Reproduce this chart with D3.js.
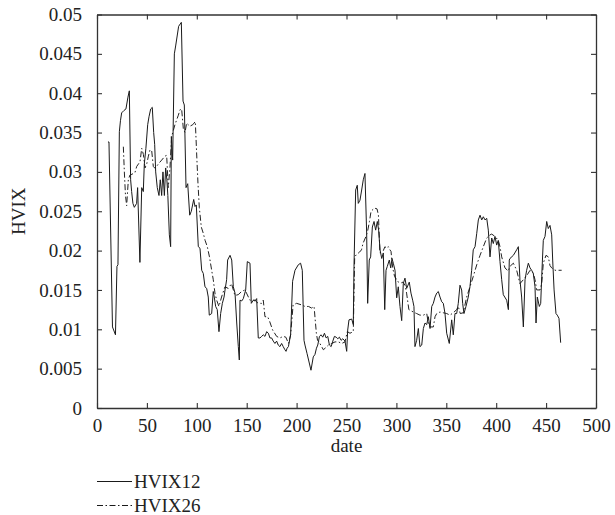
<!DOCTYPE html>
<html>
<head>
<meta charset="utf-8">
<script src="https://cdn.jsdelivr.net/npm/d3@7"></script>
<style>
  html, body { margin: 0; padding: 0; background: #fff; }
  svg { display: block; }
  text { font-family: "Liberation Serif", "DejaVu Serif", serif; fill: #222; }
</style>
</head>
<body>
<svg id="chart" width="615" height="515"></svg>
<script>
// ---- data ----
const hvix12Dates = [11,12,15.5,18.5,20,21,22.4,23.5,24.7,27,29,31,32.4,33.7,34.7,36,37.4,39.7,40.7,43,44.8,46.4,47.4,49,50.8,52.1,53.8,55.4,56.8,57.8,58.8,60.4,62.1,63.4,64.8,66.1,67.5,68.8,70,71,72.5,73.8,74.5,75.8,77.5,78.8,81.8,84.5,86.2,87.5,89.2,90.9,92.9,94.5,96.9,98.2,99.5,101.5,103.2,104.9,106.5,108.2,109.9,111.5,112.5,114.9,116.5,117.5,118.9,120.5,122.2,123.9,125.6,127.3,128.3,129.9,130.9,133.3,135,136.6,138.3,140,141.6,142.6,143.3,145,146.6,149,150.6,153.3,154.6,156.6,158.3,160,161.6,163.3,165,166.6,168.3,170,171.7,173.3,175,176.6,178.3,180,181.6,183.3,185,186.6,188.3,189.4,190.5,191.8,194,196,198.4,201.7,204,205.7,207.4,208.4,210.5,214.4,216.7,218.4,219.9,221.2,222.9,224.6,226.2,227.9,229.6,231.2,232.9,234.6,236.3,237.9,239.6,241.3,242.9,244.6,246.3,248.5,250.2,251.2,252.5,255.2,256.8,257.5,259.2,260.8,261.8,263.5,265.2,266.8,268.5,270.2,271.2,272.8,274.2,275.9,277.6,279.2,280.9,282.2,283.6,285.3,286.9,288.3,289.6,290.9,292.9,294.3,295.6,296.9,298.6,300.3,301.9,303.6,305.3,306.9,308.6,310.3,312.9,314.6,316.3,317.6,318.6,320.3,322,323.6,325.4,327,328.7,330.4,332,333.7,335.4,337,338.7,340.4,342,343.7,345.4,347,348.7,350.4,353,355.4,357,358.7,360.4,362,363.7,365.4,366.4,367.7,369.7,372,373.7,375.4,377,378.8,380.5,382.1,383.8,385.5,387.1,388.8,390.5,392.1,393.8,395.5,397.1,398.8,400.5,402.1,403.8,405.5,407.1,410.5,412.2,413.1,413.8,417.2,420.5,422.2,423.8,425.5,427.2,428.9,430.5,432.2,433.9,435.5,437.2,438.9,439.9,441.2,443.2,444.6,445.6,447.2,448.9,450.6,452.2,453.9,455.6,456.6,458,459.9,461.2,462.9,464.6];
const hvix12Values = [0.0338,0.0338,0.0103,0.0093,0.018,0.0182,0.0351,0.0365,0.0375,0.0378,0.038,0.0395,0.0403,0.029,0.0275,0.026,0.0255,0.026,0.028,0.0185,0.028,0.0275,0.031,0.033,0.036,0.037,0.038,0.0382,0.035,0.0335,0.030,0.028,0.027,0.029,0.027,0.030,0.027,0.0305,0.029,0.027,0.022,0.0205,0.0345,0.0315,0.045,0.046,0.0485,0.049,0.039,0.0385,0.028,0.0285,0.0245,0.025,0.0265,0.0256,0.0258,0.0205,0.0203,0.0175,0.0171,0.0154,0.0152,0.0141,0.0118,0.012,0.0148,0.0141,0.0129,0.0125,0.0097,0.012,0.0133,0.0141,0.015,0.0163,0.0188,0.0194,0.0188,0.0154,0.0146,0.0108,0.0078,0.0061,0.0137,0.0136,0.0139,0.015,0.0186,0.0184,0.0133,0.0137,0.0136,0.0139,0.0089,0.0089,0.0091,0.0093,0.0091,0.0097,0.0095,0.0089,0.0089,0.0085,0.0082,0.0085,0.008,0.0078,0.0082,0.0078,0.0074,0.0072,0.0076,0.0078,0.0093,0.0161,0.0175,0.0182,0.0184,0.0175,0.0086,0.008,0.0069,0.0048,0.0065,0.0068,0.0076,0.008,0.0091,0.0093,0.009,0.0095,0.0089,0.0091,0.008,0.0078,0.0085,0.0091,0.009,0.0088,0.009,0.0086,0.0088,0.0085,0.0072,0.0099,0.0112,0.0113,0.0106,0.018,0.0277,0.0283,0.026,0.0264,0.0277,0.029,0.0298,0.0222,0.0133,0.0188,0.0192,0.023,0.0237,0.0226,0.0237,0.0226,0.0201,0.019,0.0197,0.0125,0.0175,0.018,0.0188,0.0178,0.019,0.0184,0.0175,0.0140,0.0154,0.0129,0.0111,0.0158,0.0165,0.0152,0.016,0.0146,0.0137,0.0129,0.0078,0.0086,0.0101,0.0078,0.008,0.0101,0.0108,0.0106,0.0116,0.0101,0.0129,0.0133,0.0141,0.0146,0.0148,0.0141,0.0135,0.0133,0.012,0.0095,0.0082,0.0112,0.0093,0.012,0.012,0.0133,0.0156,0.015,0.0133,0.012,0.0129,0.0141,0.0154,0.0175,0.0201,0.0205,0.0222,0.0239,0.0245,0.0239,0.0243,0.0239,0.0241,0.0226,0.0192,0.0216,0.0209,0.0218,0.0207,0.0213,0.0186,0.0163,0.0144,0.0137,0.0125,0.0188,0.019,0.0194,0.0201,0.0205,0.0163,0.0141,0.0103,0.0163,0.0175,0.0184,0.0178,0.0175,0.0171,0.0154,0.0108,0.0141,0.0129,0.0133,0.0167,0.0213,0.0218,0.0237,0.0228,0.0232,0.022,0.0188,0.015,0.012,0.0118,0.0114,0.0083];

const hvix26Dates = [26.4,27.4,28.5,29.7,31.4,33,35,38,39.8,41.5,43.1,44.8,46.5,48.1,49.8,51.5,53.1,54.8,56.4,57.8,59.8,61.4,64.8,68.1,69.8,71.4,73.1,74.8,78.1,81.5,83.2,84.8,86.5,88.2,89.8,93,96,98.5,100.3,101.2,102.5,104.5,106.5,108.3,110.5,112.7,114.9,116.5,118.2,119.9,122.2,124.8,128.2,131.5,134.8,138.2,141.5,144.9,148.2,149.8,153.2,158.2,161.5,164.9,166.6,168.3,171,173,176,180,183.3,186.6,189.2,191.9,194,196.5,200,205,208.5,212,215,217.5,219.8,221,222.5,226.8,228.6,231.9,235.2,238.5,241.9,245.2,248.5,250.8,253.5,256.8,258.2,260,263,265,266.5,269.5,271.2,273,274.6,278,280.6,282,283.5,286.9,288.5,290.2,291.9,293.5,294.6,296.3,298.2,301.9,304.9,306.6,308.6,310.2,312.5,316.9,320.3,323.6,327,330.4,332,333.7,337,338.7,340.4,343.7,347,350.4,353.7,357,360.4,362,364,367,370.4,373.7,377,380.5,383.8,387.1,390.5,393.8,395.5,398.8,402.1,403.8,405.5,408.8,412.1,413.8,417.2,420.5,423.8,427.2,430.5,433.9,437.2,438.9,440.6,443.9,445.6,447.2,449.9,452.2,453.9,455.6,458.9,465.6];
const hvix26Values = [0.0332,0.030,0.0271,0.0257,0.029,0.0296,0.0297,0.0299,0.0307,0.031,0.0313,0.033,0.0322,0.0305,0.031,0.032,0.0328,0.0327,0.0307,0.0305,0.0307,0.031,0.0315,0.032,0.0321,0.028,0.0305,0.0345,0.036,0.0372,0.0379,0.038,0.0355,0.035,0.0362,0.0358,0.036,0.0364,0.031,0.0285,0.0255,0.023,0.0222,0.0213,0.0205,0.0192,0.0175,0.0163,0.0146,0.0137,0.0129,0.0141,0.0154,0.0152,0.0158,0.0143,0.0144,0.0148,0.015,0.0146,0.0137,0.0137,0.0133,0.0133,0.0137,0.0116,0.0116,0.011,0.0099,0.0091,0.0089,0.0091,0.009,0.0082,0.0093,0.0131,0.0133,0.0131,0.0129,0.0129,0.0127,0.0129,0.0095,0.0086,0.0084,0.0074,0.0076,0.008,0.0082,0.0084,0.0084,0.0082,0.0084,0.0097,0.0095,0.0097,0.0192,0.0195,0.0198,0.0201,0.0209,0.0218,0.0225,0.0237,0.025,0.0254,0.0253,0.0245,0.0197,0.020,0.0205,0.0203,0.0205,0.0201,0.0199,0.0178,0.0167,0.016,0.0159,0.016,0.0156,0.0146,0.0125,0.0122,0.012,0.0118,0.0118,0.012,0.0108,0.0103,0.0103,0.0116,0.012,0.0122,0.0121,0.012,0.0118,0.0121,0.0125,0.0129,0.012,0.0121,0.0141,0.0154,0.0167,0.0182,0.0194,0.0205,0.0216,0.022,0.0221,0.0218,0.0213,0.0205,0.0192,0.0178,0.0174,0.018,0.0184,0.0175,0.0158,0.0163,0.0168,0.0175,0.0171,0.0163,0.015,0.015,0.0158,0.0184,0.0194,0.0192,0.0181,0.0178,0.0175,0.0175];

const xTicks = [0,50,100,150,200,250,300,350,400,450,500];
const yTicks = [0,0.005,0.01,0.015,0.02,0.025,0.03,0.035,0.04,0.045,0.05];
const yTickLabels = ["0","0.005","0.01","0.015","0.02","0.025","0.03","0.035","0.04","0.045","0.05"];
const seriesNames = ["HVIX12","HVIX26"];
const xLabel = "date";
const yLabel = "HVIX";

// ---- drawing ----
const svg = d3.select("#chart");
const L = 97, R = 596, T = 14.5, B = 408;
const x = d3.scaleLinear().domain([0, 500]).range([L, R]);
const y = d3.scaleLinear().domain([0, 0.05]).range([B, T]);
const axisColor = "#333";
const tickLen = 5;

// frame ticks (inward)
const fmtY = d => yTickLabels[yTicks.indexOf(d)];
const gB = svg.append("g").attr("transform", `translate(0,${B})`)
  .call(d3.axisBottom(x).tickValues(xTicks).tickSizeInner(-tickLen).tickSizeOuter(0).tickPadding(11).tickFormat(d3.format("d")));
const gT = svg.append("g").attr("transform", `translate(0,${T})`)
  .call(d3.axisTop(x).tickValues(xTicks).tickSizeInner(-tickLen).tickSizeOuter(0).tickFormat(""));
const gL = svg.append("g").attr("transform", `translate(${L},0)`)
  .call(d3.axisLeft(y).tickValues(yTicks).tickSizeInner(-tickLen).tickSizeOuter(0).tickPadding(15).tickFormat(fmtY));
const gR = svg.append("g").attr("transform", `translate(${R},0)`)
  .call(d3.axisRight(y).tickValues(yTicks).tickSizeInner(-tickLen).tickSizeOuter(0).tickFormat(""));

[gB, gT, gL, gR].forEach(g => {
  g.select(".domain").attr("stroke", axisColor).attr("stroke-width", 1.3);
  g.selectAll(".tick line").attr("stroke", axisColor).attr("stroke-width", 1.1);
  g.selectAll("text").attr("font-family", "Liberation Serif, DejaVu Serif, serif")
    .attr("font-size", 19).attr("fill", "#222");
});
gB.selectAll("text").attr("dy", "0.71em");

// series
const line = d3.line().x(d => x(d[0])).y(d => y(d[1]));
const s12 = hvix12Dates.map((d, i) => [d, hvix12Values[i]]);
const s26 = hvix26Dates.map((d, i) => [d, hvix26Values[i]]);
const dashPattern = "6,2.5,1.5,2.5";

svg.append("path").datum(s26).attr("d", line)
  .attr("fill", "none").attr("stroke", "#222").attr("stroke-width", 1)
  .attr("stroke-dasharray", dashPattern);
svg.append("path").datum(s12).attr("d", line)
  .attr("fill", "none").attr("stroke", "#1a1a1a").attr("stroke-width", 1);

// axis labels
svg.append("text").attr("x", (L + R) / 2).attr("y", 452)
  .attr("text-anchor", "middle").attr("font-size", 19).text(xLabel);
svg.append("text").attr("transform", `translate(25,${(T + B) / 2}) rotate(-90)`)
  .attr("text-anchor", "middle").attr("font-size", 19).text(yLabel);

// legend
const legY = [481.5, 505.5];
const legend = svg.append("g");
seriesNames.forEach((name, i) => {
  legend.append("line").attr("x1", 97).attr("x2", 132)
    .attr("y1", legY[i]).attr("y2", legY[i])
    .attr("stroke", "#1a1a1a").attr("stroke-width", 1)
    .attr("stroke-dasharray", i === 1 ? dashPattern : null);
  legend.append("text").attr("x", 134).attr("y", legY[i] + 6.5)
    .attr("font-size", 19).text(name);
});
</script>
</body>
</html>
